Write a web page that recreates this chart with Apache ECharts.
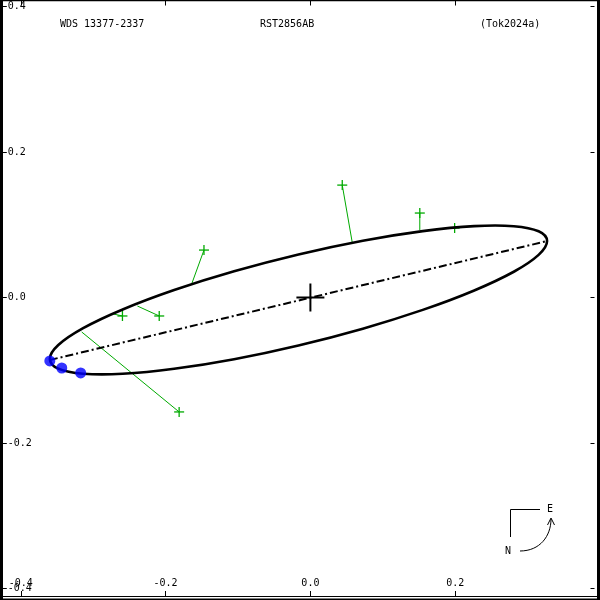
<!DOCTYPE html>
<html><head><meta charset="utf-8">
<script src="https://cdn.jsdelivr.net/npm/echarts@6/dist/echarts.min.js"></script>
<style>html,body{margin:0;padding:0;background:#fff}#c{width:600px;height:600px}</style>
</head><body><div id="c"></div>
<script>
// Apparent orbit points (arcsec) (closed loop)
const orbitX = [-0.0165, -0.1054, -0.1882, -0.2593, -0.3139, -0.3482, -0.3599, -0.3482, -0.3139, -0.2593, -0.1882, -0.1054, -0.0165, 0.0724, 0.1552, 0.2263, 0.2809, 0.3152, 0.3269, 0.3152, 0.2809, 0.2263, 0.1552, 0.0724];
const orbitY = [0.0591, 0.0360, 0.0102, -0.0165, -0.0422, -0.0654, -0.0844, -0.0978, -0.1048, -0.1049, -0.0980, -0.0848, -0.0659, -0.0428, -0.0170, 0.0097, 0.0354, 0.0586, 0.0776, 0.0910, 0.0980, 0.0981, 0.0912, 0.0780];
// Line of apsides
const apsX = [-0.3599, 0.3269];
const apsY = [-0.0859, 0.0776];
// Observations and their predicted positions
const obsX = [-0.1813, -0.2596, -0.2088, -0.1470, 0.0440, 0.1511, 0.1992];
const obsY = [-0.1573, -0.0254, -0.0254, 0.0652, 0.1545, 0.1161, 0.0955];
const fitX = [-0.3159, -0.2720, -0.2390, -0.1635, 0.0577, 0.1511, 0.1992];
const fitY = [-0.0474, -0.0227, -0.0117, 0.0199, 0.0762, 0.0927, 0.0968];
// Blue points
const blueX = [-0.3599, -0.3434, -0.3173];
const blueY = [-0.0872, -0.0969, -0.1037];
// Primary
const primX = [0];
const primY = [0];
const titles = ['WDS 13377-2337', 'RST2856AB', '(Tok2024a)'];

const FONT = 'DejaVu Sans Mono';
const GREEN = '#00aa00';
const chart = echarts.init(document.getElementById('c'), null, {renderer: 'canvas'});
const zip = (a, b) => a.map((v, i) => [v, b[i]]);
const lbl = {color: '#000', fontFamily: FONT, fontSize: 10};
const tStyle = {fontFamily: FONT, fontSize: 10, fontWeight: 'normal', color: '#000'};

const xBase = {type: 'value', min: -0.4, max: 0.4, interval: 0.2, splitLine: {show: false}, axisLine: {show: false, onZero: false}};
const yBase = {type: 'value', min: -0.4, max: 0.4, interval: 0.2, splitLine: {show: false}, axisLine: {show: false, onZero: false}};

chart.setOption({
  animation: false,
  backgroundColor: '#fff',
  title: [
    {text: titles[0], left: 60, top: 19, padding: 0, textStyle: tStyle},
    {text: titles[1], left: 260, top: 19, padding: 0, textStyle: tStyle},
    {text: titles[2], left: 480, top: 19, padding: 0, textStyle: tStyle}
  ],
  grid: {left: 20.8, right: -3.2, top: 6.5, bottom: 11.5, containLabel: false},
  xAxis: [
    Object.assign({}, xBase, {position: 'bottom', offset: 7.5,
      axisTick: {show: true, inside: true, length: 5, lineStyle: {color: '#000'}},
      axisLabel: Object.assign({inside: true, margin: 8, showMaxLabel: false,
        formatter: v => (Math.abs(v - 0.4) < 1e-9 ? '' : v.toFixed(1))}, lbl)}),
    Object.assign({}, xBase, {position: 'top', offset: 6,
      axisTick: {show: true, inside: true, length: 5, lineStyle: {color: '#000'}},
      axisLabel: {show: false}})
  ],
  yAxis: [
    Object.assign({}, yBase, {position: 'left', offset: 18,
      axisTick: {show: true, inside: true, length: 4, lineStyle: {color: '#000'}},
      axisLabel: Object.assign({inside: true, margin: 5, formatter: v => v.toFixed(1)}, lbl)}),
    Object.assign({}, yBase, {position: 'right', offset: -5.5,
      axisTick: {show: true, inside: true, length: 4, lineStyle: {color: '#000'}},
      axisLabel: {show: false}})
  ],
  series: [
    {
      type: 'custom', z: 2, silent: true,
      data: obsX.map((x, i) => [x, obsY[i], fitX[i], fitY[i]]),
      encode: {x: [0, 2], y: [1, 3]},
      renderItem: (params, api) => {
        const o = api.coord([api.value(0), api.value(1)]);
        const f = api.coord([api.value(2), api.value(3)]);
        const s = 5;
        return {type: 'group', children: [
          {type: 'line', shape: {x1: f[0], y1: f[1], x2: o[0], y2: o[1]}, style: {stroke: GREEN, lineWidth: 1}},
          {type: 'line', shape: {x1: o[0] - s, y1: o[1], x2: o[0] + s, y2: o[1]}, style: {stroke: GREEN, lineWidth: 1.3}},
          {type: 'line', shape: {x1: o[0], y1: o[1] - s, x2: o[0], y2: o[1] + s}, style: {stroke: GREEN, lineWidth: 1.3}}
        ]};
      }
    },
    {
      // closed orbit drawn as a Catmull-Rom curve through the read points
      type: 'custom', z: 3, silent: true, data: zip(orbitX, orbitY),
      renderItem: (params, api) => {
        if (params.dataIndex !== 0) return null;
        const P = orbitX.map((x, i) => api.coord([x, orbitY[i]]));
        const n = P.length;
        let d = 'M' + P[0][0] + ' ' + P[0][1];
        for (let i = 0; i < n; i++) {
          const p0 = P[(i - 1 + n) % n], p1 = P[i], p2 = P[(i + 1) % n], p3 = P[(i + 2) % n];
          const c1x = p1[0] + (p2[0] - p0[0]) / 6, c1y = p1[1] + (p2[1] - p0[1]) / 6;
          const c2x = p2[0] - (p3[0] - p1[0]) / 6, c2y = p2[1] - (p3[1] - p1[1]) / 6;
          d += ' C' + c1x + ' ' + c1y + ' ' + c2x + ' ' + c2y + ' ' + p2[0] + ' ' + p2[1];
        }
        d += ' Z';
        return {type: 'path', shape: {pathData: d}, style: {stroke: '#000', lineWidth: 2.6, fill: null}};
      }
    },
    {
      type: 'line', z: 3, silent: true, data: zip(apsX, apsY), showSymbol: false,
      lineStyle: {color: '#000', width: 2, type: [8, 3, 2, 3]}
    },
    {
      type: 'custom', z: 4, silent: true, data: zip(primX, primY),
      renderItem: (params, api) => {
        const p = api.coord([api.value(0), api.value(1)]);
        const s = 14;
        return {type: 'group', children: [
          {type: 'line', shape: {x1: p[0] - s, y1: p[1], x2: p[0] + s, y2: p[1]}, style: {stroke: '#000', lineWidth: 2}},
          {type: 'line', shape: {x1: p[0], y1: p[1] - s, x2: p[0], y2: p[1] + s}, style: {stroke: '#000', lineWidth: 2}}
        ]};
      }
    },
    {
      type: 'scatter', z: 5, silent: true, data: zip(blueX, blueY),
      symbol: 'circle', symbolSize: 11, itemStyle: {color: '#0000ff'}
    }
  ],
  graphic: [
    {type: 'rect', shape: {x: 0, y: 0, width: 3, height: 600}, style: {fill: '#000'}, z: 100},
    {type: 'rect', shape: {x: 597, y: 0, width: 3, height: 600}, style: {fill: '#000'}, z: 100},
    {type: 'rect', shape: {x: 0, y: 0, width: 600, height: 1.2}, style: {fill: '#000'}, z: 100},
    {type: 'rect', shape: {x: 0, y: 596, width: 600, height: 1}, style: {fill: '#000'}, z: 100},
    {type: 'rect', shape: {x: 0, y: 598.5, width: 600, height: 1.5}, style: {fill: '#000'}, z: 100},
    {type: 'polyline', shape: {points: [[510.5, 537], [510.5, 509.5], [540, 509.5]]}, style: {stroke: '#000', lineWidth: 1, fill: null}, z: 100},
    {type: 'text', x: 550, y: 509, style: {text: 'E', font: '10px ' + FONT, fill: '#000', align: 'center', verticalAlign: 'middle'}, z: 100},
    {type: 'text', x: 508, y: 551, style: {text: 'N', font: '10px ' + FONT, fill: '#000', align: 'center', verticalAlign: 'middle'}, z: 100},
    {type: 'bezierCurve', shape: {x1: 520, y1: 551, cpx1: 540, cpy1: 551, cpx2: 551, cpy2: 536, x2: 551, y2: 519}, style: {stroke: '#000', lineWidth: 1, fill: null}, z: 100},
    {type: 'polyline', shape: {points: [[547.5, 525], [551, 518], [554.5, 525]]}, style: {stroke: '#000', lineWidth: 1, fill: null}, z: 100}
  ]
});
</script>
</body></html>
